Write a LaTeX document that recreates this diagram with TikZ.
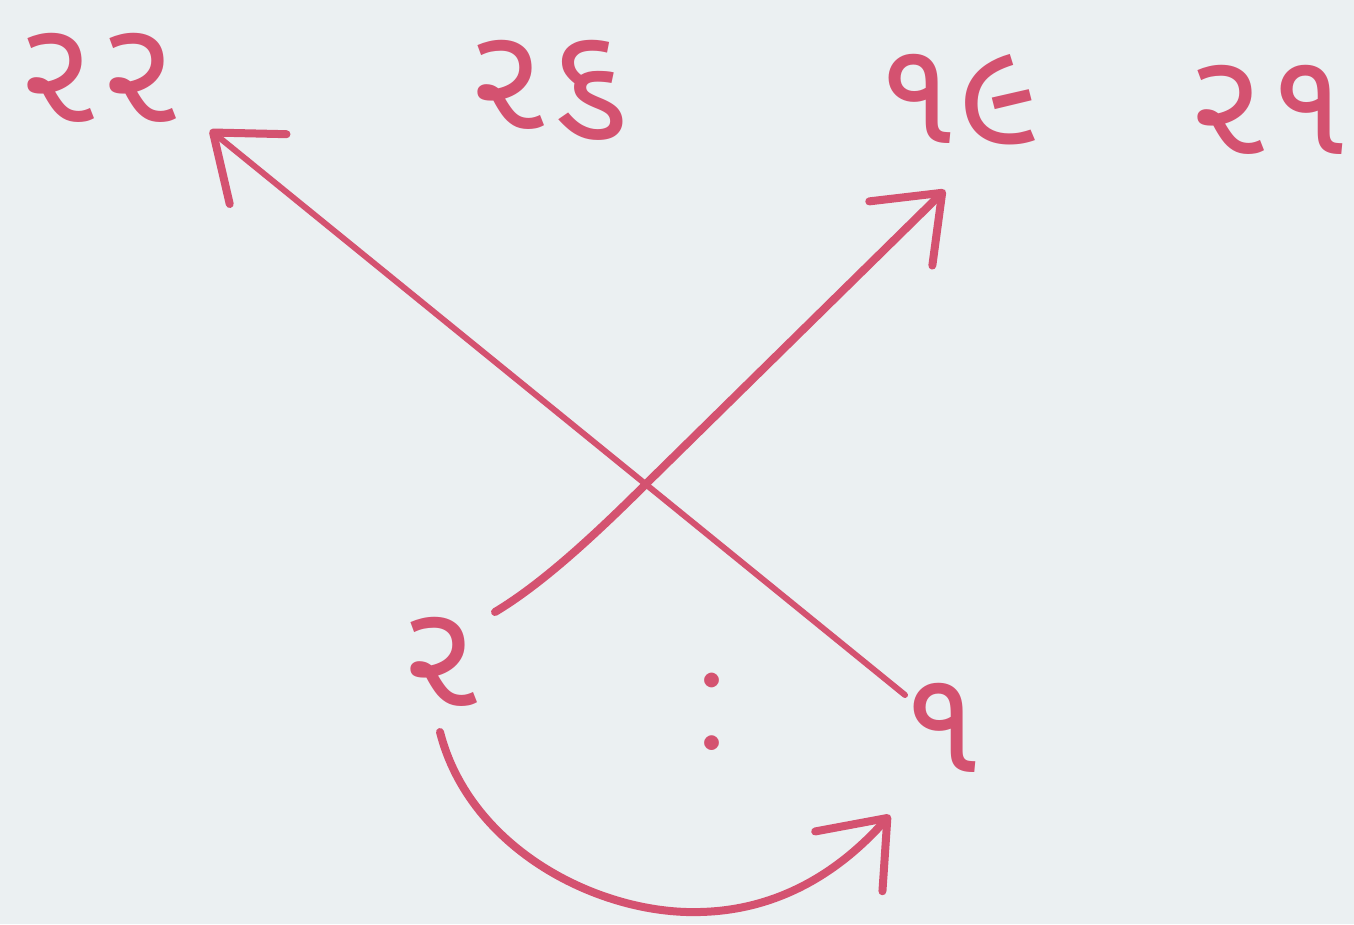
\documentclass[tikz,border=0pt]{standalone}
\usepackage{fontspec}
\newfontfamily\gujfont[Script=Gujarati]{Noto Sans Gujarati UI}
\usetikzlibrary{arrows.meta}
\definecolor{ink}{RGB}{212,82,112}
\definecolor{paper}{RGB}{235,240,242}
\tikzset{
  num/.style={text=ink, inner sep=0pt, font=\gujfont\fontsize{148}{148}\selectfont},
  arr/.style={draw=ink, line width=8pt, line cap=round,
    -{Straight Barb[length=58pt, width=90pt, line width=8pt, round]}},
}
\begin{document}
\begin{tikzpicture}[x=1pt, y=1pt]
\fill[paper] (0,0) rectangle (1354,-924);
\useasboundingbox (0,0) rectangle (1354,-924);
\node[num] (a22) at (98,-78) {૨૨};
\node[num] (a26) at (548,-90) {૨૬};
\node[num] (a19) at (958,-100) {૧૯};
\node[num] (a21) at (1268,-110) {૨૧};
\node[num] (n2) at (440,-662) {૨};
\node[num, font=\fontsize{180}{180}\selectfont] (col) at (712,-712) {:};
\node[num] (n1) at (942,-728) {૧};
\coordinate (s1) at ([shift={(-37,33)}]n1.center);
\coordinate (t22) at ([shift={(112,-52)}]a22.center);
\coordinate (s2) at ([shift={(55,50)}]n2.center);
\coordinate (t19) at ([shift={(-13,-90)}]a19.center);
\coordinate (s3) at ([shift={(0,-70)}]n2.center);
\coordinate (t1) at ([shift={(-52,-87)}]n1.center);
\draw[arr, line width=6pt] (s1) -- (t22);
\draw[arr] (s2) .. controls (540,-585) and (590,-540) .. (650,-480) -- (t19);
\draw[arr] (s3) .. controls (470,-850) and (600,-915) .. (700,-912)
  .. controls (790,-910) and (850,-860) .. (t1);
\end{tikzpicture}
\end{document}
